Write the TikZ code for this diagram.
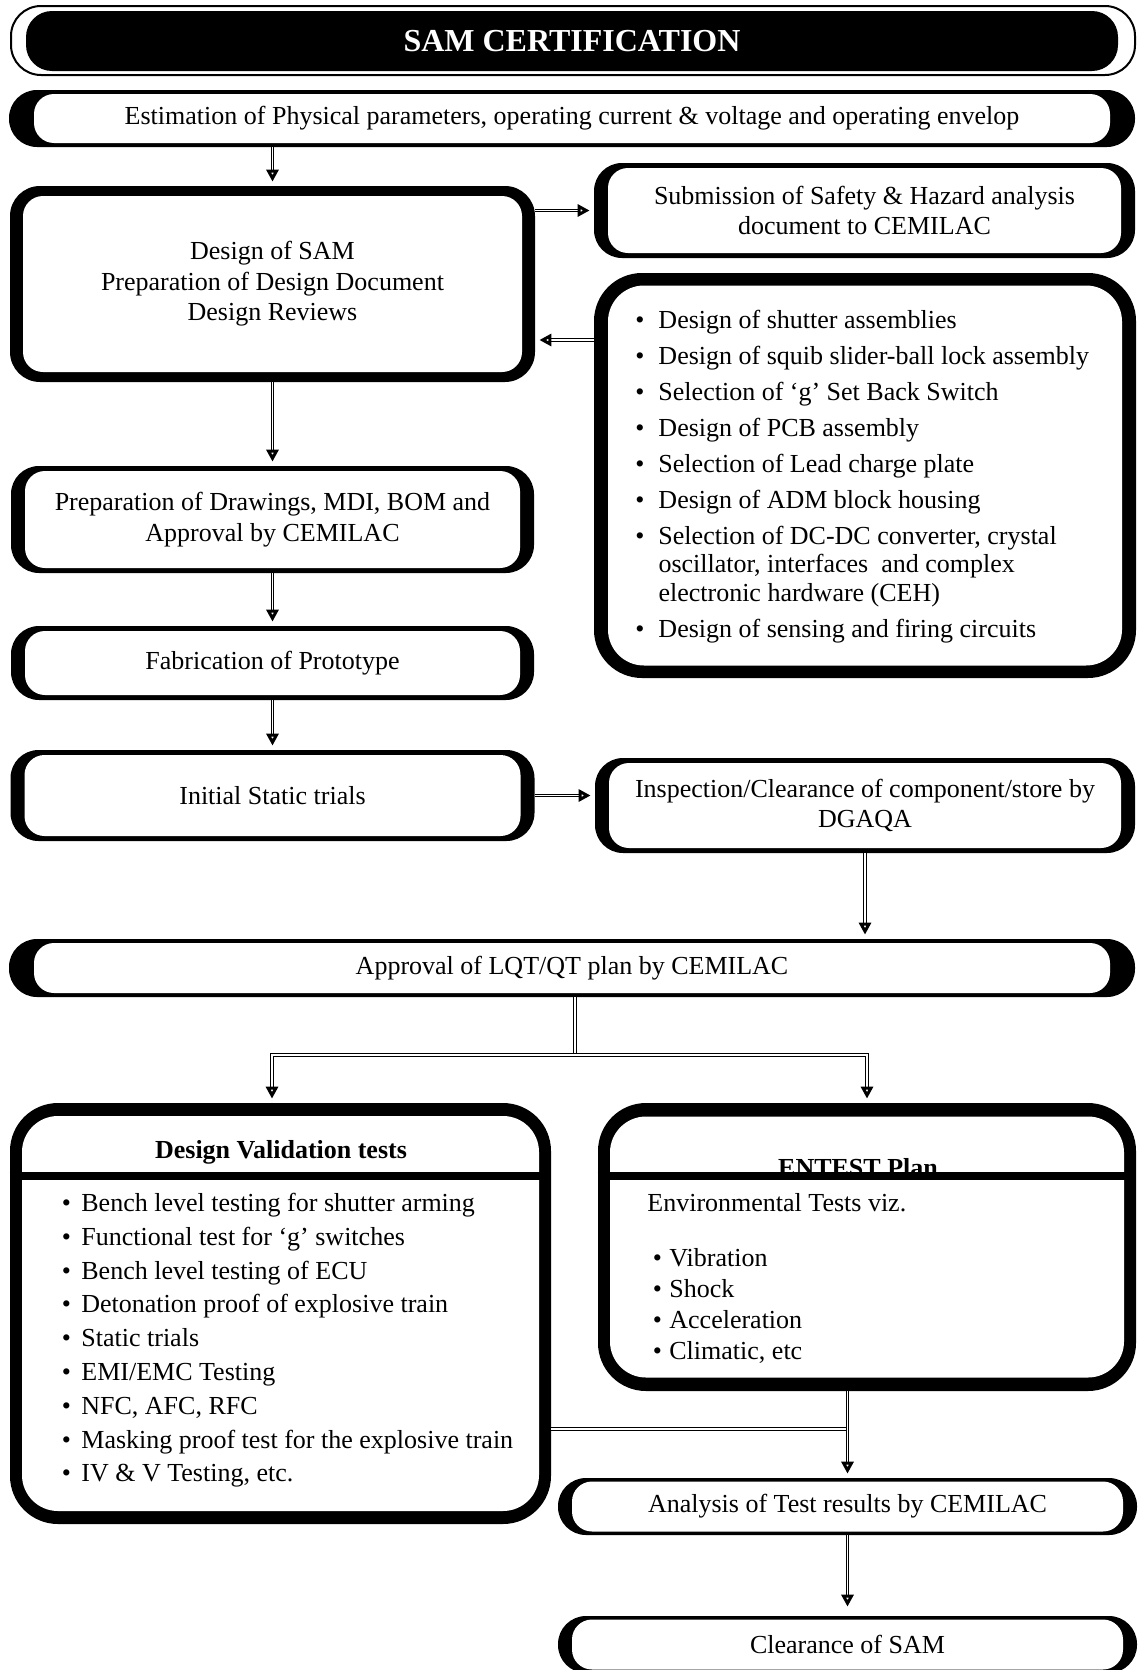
\documentclass[tikz,border=0pt,12pt]{standalone}
\usepackage{fontspec}
\setmainfont{Liberation Serif}
\usetikzlibrary{arrows.meta}

\begin{document}
\begin{tikzpicture}[x=0.5pt,y=-0.5pt]

\tikzset{blk/.style={fill=black,rounded corners=14pt,inner sep=0pt},}
\tikzset{blkbig/.style={fill=black,rounded corners=24pt,inner sep=0pt},}
\tikzset{wht/.style={fill=white,rounded corners=10pt,inner sep=0pt,align=center,font=\fontsize{13}{15.3}\selectfont},}
\tikzset{whtbig/.style={fill=white,rounded corners=18pt,inner sep=0pt},}
\tikzset{lst/.style={inner sep=0pt,anchor=west,font=\fontsize{13}{14.2}\selectfont},}
\tikzset{head/.style={inner sep=0pt,font=\fontsize{13}{14}\selectfont\bfseries},}
\tikzset{dbl/.style={double,double distance=0.8pt,line width=0.5pt,-{Triangle[open,length=6pt,width=6pt,line width=1.5pt]},shorten >=2pt},}
\tikzset{dblline/.style={double,double distance=0.8pt,line width=0.5pt},}

\useasboundingbox (0,0) rectangle (1137,1670);

%TITLE
\draw (573,40.5) node [draw,line width=1pt,rounded corners=15pt,minimum width=562pt,minimum height=34.5pt,inner sep=0pt] (frame) {};
\draw (572,41) node [blk,rounded corners=13pt,minimum width=546pt,minimum height=30pt,text=white,font=\fontsize{16}{18}\selectfont\bfseries] (title) {SAM CERTIFICATION};

%ESTIMATION
\draw (572,118.5) node [blk,minimum width=563pt,minimum height=28.5pt] (estO) {};
\draw (572,118.5) node [wht,minimum width=538pt,minimum height=24.5pt] (est) {Estimation of Physical parameters, operating current \& voltage and operating envelop};

%DESIGN
\draw (272.5,284) node [blk,rounded corners=15pt,minimum width=262.5pt,minimum height=98pt] (desO) {};
\draw (272.5,284) node [wht,minimum width=249.5pt,minimum height=88pt] (des) {Design of SAM\\Preparation of Design Document\\Design Reviews};

%SUBMISSION
\draw (864.5,210.5) node [blk,minimum width=270.5pt,minimum height=47.5pt] (subO) {};
\draw (864.5,210.5) node [wht,minimum width=256.5pt,minimum height=42.5pt] (sub) {Submission of Safety \& Hazard analysis\\document to CEMILAC};

%DESIGN ITEMS
\draw (865,475.5) node [blkbig,minimum width=271pt,minimum height=202.5pt] (bulO) {};
\draw (865,475.5) node [whtbig,minimum width=257pt,minimum height=190pt] (bul) {};
\draw (635,477) node [lst] (bultxt) {\begin{tabular}{@{}l@{\hspace{7pt}}l@{}}
\textbullet & Design of shutter assemblies\\[3.8pt]
\textbullet & Design of squib slider-ball lock assembly\\[3.8pt]
\textbullet & Selection of ‘g’ Set Back Switch\\[3.8pt]
\textbullet & Design of PCB assembly\\[3.8pt]
\textbullet & Selection of Lead charge plate\\[3.8pt]
\textbullet & Design of ADM block housing\\[3.8pt]
\textbullet & Selection of DC-DC converter, crystal\\
 & oscillator, interfaces\ \ and complex\\
 & electronic hardware (CEH)\\[3.8pt]
\textbullet & Design of sensing and firing circuits
\end{tabular}};

%PREPARATION
\draw (272.5,519.5) node [blk,minimum width=261.5pt,minimum height=53.5pt] (prepO) {};
\draw (272.5,519.5) node [wht,minimum width=247.5pt,minimum height=48.5pt] (prep) {Preparation of Drawings, MDI, BOM and\\Approval by CEMILAC};

%FABRICATION
\draw (272.5,663) node [blk,minimum width=261.5pt,minimum height=37pt] (fabO) {};
\draw (272.5,663) node [wht,minimum width=247.5pt,minimum height=32pt] (fab) {Fabrication of Prototype};

%INITIAL TRIALS
\draw (272.5,795.5) node [blk,minimum width=262pt,minimum height=45.5pt] (iniO) {};
\draw (272.5,795.5) node [wht,minimum width=248pt,minimum height=40.5pt] (ini) {Initial Static trials};

%INSPECTION
\draw (865,805.5) node [blk,minimum width=270pt,minimum height=47.5pt] (insO) {};
\draw (865,805.5) node [wht,minimum width=256pt,minimum height=42.5pt] (ins) {Inspection/Clearance of component/store by\\DGAQA};

%APPROVAL
\draw (572,968) node [blk,minimum width=563pt,minimum height=29pt] (apprO) {};
\draw (572,968) node [wht,minimum width=538pt,minimum height=25pt] (appr) {Approval of LQT/QT plan by CEMILAC};

%DESIGN VALIDATION
\draw (280.5,1313.5) node [blkbig,minimum width=270.5pt,minimum height=210.5pt] (dvO) {};
\draw (280.5,1313.5) node [whtbig,minimum width=258.5pt,minimum height=197.5pt] (dv) {};
\draw (281,1152) node [head] (dvhead) {Design Validation tests};
\draw[line width=4pt] (dvO.west |- 0,1176) -- (dvO.east |- 0,1176);
\draw (61.5,1341) node [lst] (dvtxt) {\begin{tabular}{@{}l@{\hspace{5.2pt}}l@{}}
\textbullet & Bench level testing for shutter arming\\[2.7pt]
\textbullet & Functional test for ‘g’ switches\\[2.7pt]
\textbullet & Bench level testing of ECU\\[2.7pt]
\textbullet & Detonation proof of explosive train\\[2.7pt]
\textbullet & Static trials\\[2.7pt]
\textbullet & EMI/EMC Testing\\[2.7pt]
\textbullet & NFC, AFC, RFC\\[2.7pt]
\textbullet & Masking proof test for the explosive train\\[2.7pt]
\textbullet & IV \& V Testing, etc.
\end{tabular}};

%ENTEST
\draw (867,1247) node [blkbig,minimum width=269pt,minimum height=144pt] (entO) {};
\draw (867,1247) node [whtbig,minimum width=257pt,minimum height=130.5pt] (ent) {};
\draw (858,1176) node [head,anchor=base] (enthead) {ENTEST Plan};
\draw[line width=4pt] (entO.west |- 0,1176) -- (entO.east |- 0,1176);
\draw (647,1280) node [lst] (enttxt) {\begin{tabular}{@{\hspace{2.75pt}}l@{\hspace{3.7pt}}l@{}}
\multicolumn{2}{@{}l@{}}{Environmental Tests viz.}\\[13.3pt]
\textbullet & Vibration\\[1.3pt]
\textbullet & Shock\\[1.3pt]
\textbullet & Acceleration\\[1.3pt]
\textbullet & Climatic, etc
\end{tabular}};

%ANALYSIS
\draw (847.5,1506.5) node [blk,minimum width=289.5pt,minimum height=28.5pt] (anaO) {};
\draw (847.5,1506.5) node [wht,minimum width=275.5pt,minimum height=25pt] (ana) {Analysis of Test results by CEMILAC};

%CLEARANCE
\draw (847.5,1644.5) node [blk,minimum width=289.5pt,minimum height=28.5pt] (clrO) {};
\draw (847.5,1644.5) node [wht,minimum width=275.5pt,minimum height=25pt] (clr) {Clearance of SAM};

%ARROWS
\draw[dbl] (desO.north |- estO.south) -- (desO.north);
\draw[dbl] (desO.east |- subO.west) -- (subO.west);
\coordinate (bulin) at (594,340);
\draw[dbl] (bulin) -- (bulin -| desO.east);
\draw[dbl] (desO.south) -- (prepO.north);
\draw[dbl] (prepO.south) -- (fabO.north);
\draw[dbl] (fabO.south) -- (iniO.north);
\draw[dbl] (iniO.east) -- (iniO.east -| insO.west);
\draw[dbl] (insO.south) -- (insO.south |- apprO.north);

\coordinate (split) at (575,1055);
\draw[dblline] (split |- apprO.south) -- (split);
\draw[dbl] (split) -| ([xshift=-4.25pt]dvO.north);
\draw[dbl] (split) -| (entO.north);

\coordinate (join) at (847.5,1429);
\draw[dblline] (dvO.east |- join) -- (join);
\draw[dbl] (anaO.north |- entO.south) -- (anaO.north);
\draw[dbl,shorten >=4.5pt] (anaO.south) -- (clrO.north);

\end{tikzpicture}
\end{document}
